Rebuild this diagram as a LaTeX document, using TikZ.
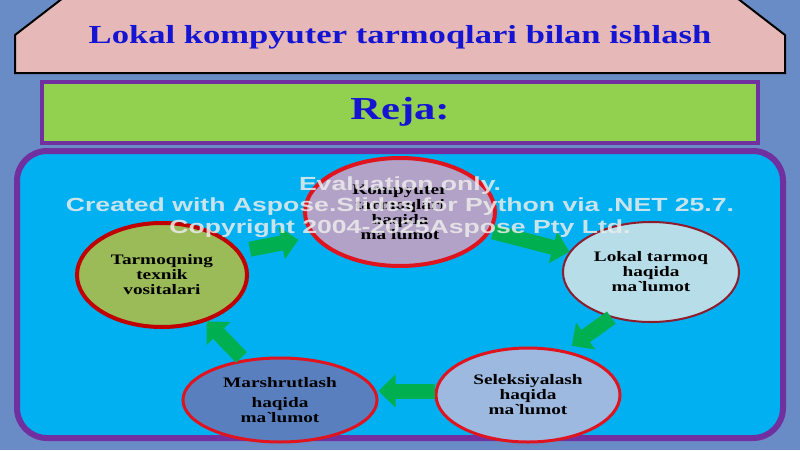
\documentclass[tikz,border=0pt]{standalone}
\usepackage{fontspec}
\setmainfont{Liberation Serif}[FakeStretch=1.33]
\newfontfamily\wmfont{Liberation Sans}[FakeStretch=1.4]
\usetikzlibrary{shapes.geometric,arrows.meta}
\definecolor{fond}{HTML}{6A8CC6}
\definecolor{rose}{HTML}{E6B9B8}
\definecolor{vertclair}{HTML}{92D050}
\definecolor{violet}{HTML}{7030A0}
\definecolor{ciel}{HTML}{00B0F0}
\definecolor{titrebleu}{HTML}{1414D2}
\definecolor{vert}{HTML}{00B050}
\definecolor{rouge}{HTML}{E0141E}
\definecolor{rougefonce}{HTML}{8E1C2C}

\begin{document}
\begin{tikzpicture}[x=1pt,y=-1pt,
  bulle/.style={ellipse, inner sep=0pt, align=center, text=black, font=\bfseries\fontsize{14.5}{15}\selectfont},
  fleche/.style={draw=vert, line width=15pt, -{Triangle[length=17pt,width=32pt]}}]

  \fill[fond] (0,0) rectangle (800,450);
  \useasboundingbox (0,0) rectangle (800,450);

  % en-tete
  \draw[fill=rose, line width=2pt] (15,73) -- (15,35) -- (63,-2) -- (737,-2) -- (785,35) -- (785,73) -- cycle;
  \node[text=titrebleu, font=\bfseries\fontsize{26}{30}\selectfont] (Sarlavha) at (400,37) {Lokal kompyuter tarmoqlari bilan ishlash};
  \node[draw=violet, line width=4pt, fill=vertclair, minimum width=716pt, minimum height=61pt,
        text=titrebleu, font=\bfseries\fontsize{32}{36}\selectfont] (Reja) at (400,112) {Reja:};

  \draw[draw=violet, line width=6pt, fill=ciel, rounded corners=30pt] (17,151) rectangle (783,438);

  \begin{scope}[every node/.style={bulle}]
    \node[fill={rgb,255:red,179;green,162;blue,199}, draw=rouge, line width=4pt,
          minimum width=190pt, minimum height=108pt] (Kompyuter) at (400,212)
          {Kompyuter\\tarmoqlari\\haqida\\ma\textasciigrave lumot};
    \node[fill={rgb,255:red,183;green,222;blue,232}, draw=rougefonce, line width=2pt,
          minimum width=176pt, minimum height=100pt] (Lokal) at (651,272)
          {Lokal tarmoq\\haqida\\ma\textasciigrave lumot};
    \node[fill={rgb,255:red,157;green,185;blue,224}, draw=rouge, line width=3pt,
          minimum width=184pt, minimum height=94pt] (Seleksiya) at (528,395)
          {Seleksiyalash\\haqida\\ma\textasciigrave lumot};
    \node[fill={rgb,255:red,90;green,127;blue,191}, draw=rouge, line width=3pt,
          minimum width=194pt, minimum height=84pt] (Marshrut) at (280,400)
          {Marshrutlash\\[5pt]haqida\\ma\textasciigrave lumot};
    \node[fill={rgb,255:red,155;green,187;blue,89}, draw={rgb,255:red,192;green,0;blue,0}, line width=4pt,
          minimum width=170pt, minimum height=104pt] (Texnik) at (162,275)
          {Tarmoqning\\texnik\\vositalari};
  \end{scope}

  \draw[fleche, shorten <=10pt, shorten >=15pt] (Texnik.17) -- (Kompyuter.196);
  \draw[fleche, shorten <=2pt] (Kompyuter.-12) -- (Lokal.166);
  \draw[fleche, shorten >=8pt] (Lokal.229) -- (Seleksiya.50);
  \draw[fleche] ([yshift=4pt]Seleksiya.west) -- ([yshift=4pt]Seleksiya.west -| Marshrut.east);
  \draw[fleche, shorten <=3pt] (Marshrut.132) -- (Texnik.314);

  % filigrane
  \begin{scope}[every node/.style={text=gray!15, text opacity=0.85, font=\wmfont\bfseries\fontsize{19}{21}\selectfont}]
    \node (wm1) at (400,186) {Evaluation only.};
    \node (wm2) at (400,207) {Created with Aspose.Slides for Python via .NET 25.7.};
    \node (wm3) at (400,229) {Copyright 2004-2025Aspose Pty Ltd.};
  \end{scope}
\end{tikzpicture}
\end{document}
